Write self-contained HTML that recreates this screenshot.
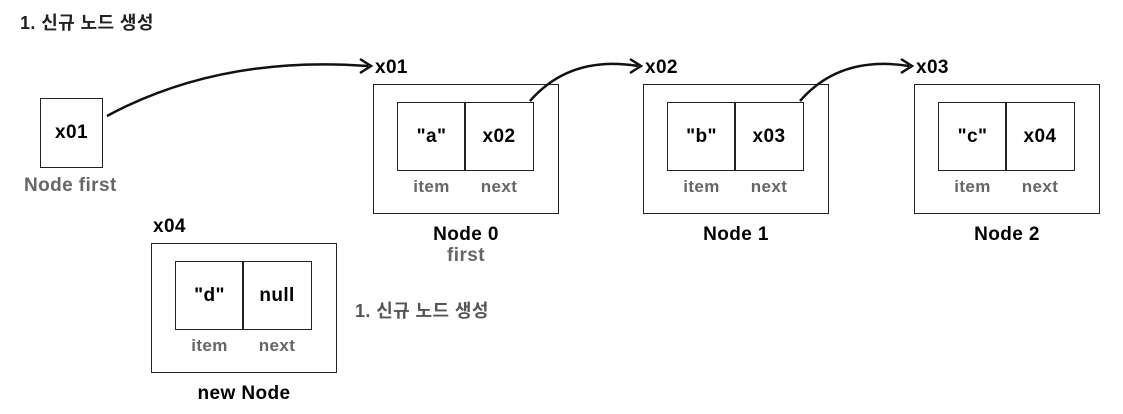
<!DOCTYPE html>
<html><head><meta charset="utf-8"><style>
body{margin:0;width:1123px;height:414px;background:#fff;position:relative;overflow:hidden;font-family:"Liberation Sans","Noto Sans CJK KR",sans-serif;}
.t{position:absolute;white-space:nowrap;font-weight:bold;letter-spacing:0.4px;}
.b{position:absolute;border:1.5px solid #222;box-sizing:border-box;}
</style></head><body>
<div class="t" style="left:20px;top:9px;font-size:18px;color:#222">1. 신규 노드 생성</div>
<div class="t" style="left:355px;top:297px;font-size:18px;color:#555">1. 신규 노드 생성</div>

<div class="b" style="left:40px;top:98px;width:63px;height:70px"></div>
<div class="t" style="left:40px;width:63px;text-align:center;top:122px;font-size:19px">x01</div>
<div class="t" style="left:24px;top:175px;font-size:19px;color:#666">Node first</div>

<div id="n"></div>
<script>
var nodes=[[373,84,'x01','"a"','x02','Node 0'],[643,84,'x02','"b"','x03','Node 1'],[914,84,'x03','"c"','x04','Node 2'],[151,243,'x04','"d"','null','new Node']];
var h='';
nodes.forEach(function(n){var x=n[0],y=n[1];
h+='<div class="b" style="left:'+x+'px;top:'+y+'px;width:186px;height:130px"></div>';
h+='<div class="b" style="left:'+(x+24)+'px;top:'+(y+18)+'px;width:69px;height:69px"></div>';
h+='<div class="b" style="left:'+(x+91)+'px;top:'+(y+18)+'px;width:70px;height:69px"></div>';
h+='<div class="t" style="left:'+(x+24)+'px;width:69px;text-align:center;top:'+(y+42)+'px;font-size:19px">'+n[3]+'</div>';
h+='<div class="t" style="left:'+(x+91)+'px;width:70px;text-align:center;top:'+(y+42)+'px;font-size:19px">'+n[4]+'</div>';
h+='<div class="t" style="left:'+(x+24)+'px;width:69px;text-align:center;top:'+(y+93)+'px;font-size:17px;color:#666">item</div>';
h+='<div class="t" style="left:'+(x+91)+'px;width:70px;text-align:center;top:'+(y+93)+'px;font-size:17px;color:#666">next</div>';
h+='<div class="t" style="left:'+(x+2)+'px;top:'+(y-27)+'px;font-size:19px">'+n[2]+'</div>';
h+='<div class="t" style="left:'+x+'px;width:186px;text-align:center;top:'+(y+140)+'px;font-size:19px">'+n[5]+'</div>';
});
h+='<div class="t" style="left:373px;width:186px;text-align:center;top:245px;font-size:19px;color:#666">first</div>';
document.getElementById('n').outerHTML=h;
</script>

<svg width="1123" height="414" style="position:absolute;left:0;top:0" fill="none" stroke="#111" stroke-width="2.5">
<path d="M107 116 Q220 55 368 66"/>
<path d="M360 59 L371 66 L360 73"/>
<path d="M530 101 Q570 55 638 66"/>
<path d="M630 59 L641 66 L630 73"/>
<path d="M800 101 Q840 55 909 66"/>
<path d="M901 59 L912 66 L901 73"/>
</svg>
</body></html>
